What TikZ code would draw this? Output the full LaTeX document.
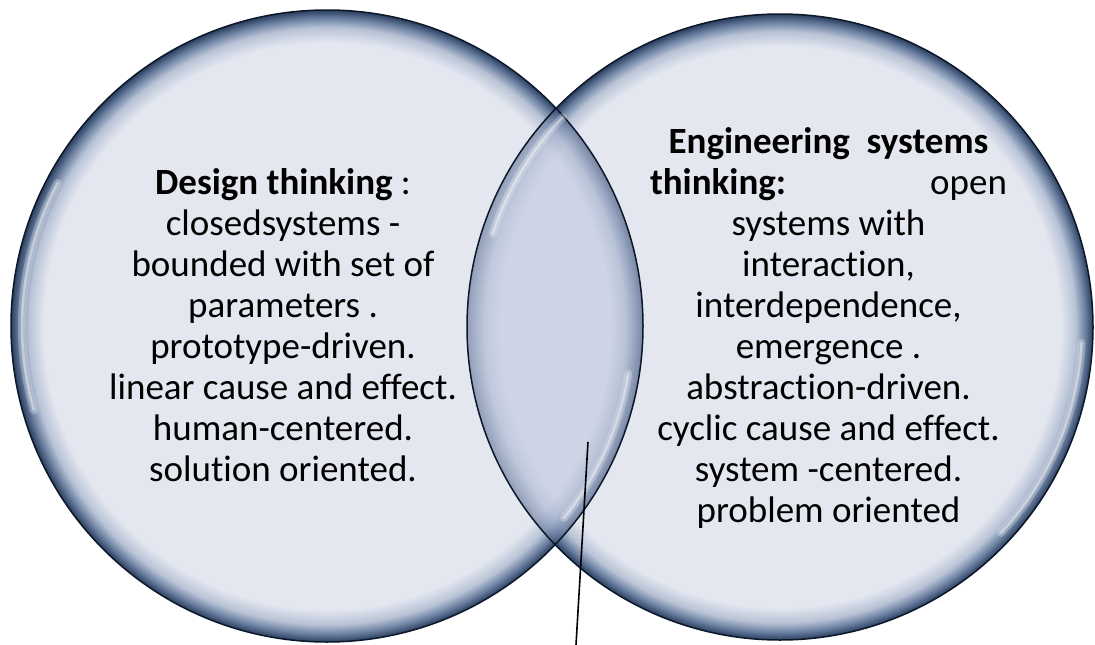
\documentclass[tikz,border=0pt]{standalone}
\usepackage{fontspec}
\setmainfont{Carlito}[Ligatures={NoCommon,NoContextual}]
\definecolor{cfill}{RGB}{228,231,240}
\definecolor{crimA}{RGB}{184,195,214}
\definecolor{crimB}{RGB}{104,125,158}
\definecolor{crimC}{RGB}{42,62,94}
\definecolor{cedge}{RGB}{12,24,42}
\definecolor{ctint}{RGB}{120,140,185}
\pgfdeclareradialshading{bubble}{\pgfpoint{0bp}{0bp}}{color(0bp)=(cfill); color(22.4bp)=(cfill); color(23.6bp)=(crimA); color(24.4bp)=(crimB); color(25bp)=(crimC); color(50bp)=(crimC)}
\tikzset{
  edge/.style={draw=cedge, line width=1.5pt},
  shine/.style={draw=white, line width=8pt, line cap=round, opacity=0.25},
  shinecore/.style={draw=white, line width=2.5pt, line cap=round, opacity=0.4},
  txt/.style={inner sep=0pt, font=\fontsize{37}{41}\selectfont, text=black}
}
\begin{document}
\begin{tikzpicture}[x=1pt,y=-1pt]
\useasboundingbox (0,0) rectangle (1095,645);
\coordinate (L) at (327,326);
\coordinate (R) at (780,327);
\shade[shading=bubble] (L) circle (316);
\shade[shading=bubble] (R) circle (313);
\begin{scope}
  \clip (R) circle (313);
  \shade[shading=bubble, fill opacity=0.6] (L) circle (316);
  \fill[ctint, fill opacity=0.2] (L) circle (316);
\end{scope}
\draw[edge] (L) circle (316);
\draw[edge] (R) circle (313);
% highlights (angles mirrored because y points down)
\foreach \st in {shine, shinecore} {
  \draw[\st] (L) ++(-152:305) arc[start angle=-152, end angle=-196, radius=305];
  \draw[\st] (L) ++(39:305) arc[start angle=39, end angle=9, radius=305];
  \draw[\st] (R) ++(-136:302) arc[start angle=-136, end angle=-162, radius=302];
  \draw[\st] (R) ++(43:302) arc[start angle=43, end angle=3, radius=302];
}
% texts
\node[txt, anchor=base] (dt) at (283,194) {\parbox[t]{380pt}{\centering
  \textbf{Design thinking} :\\
  closedsystems -\\
  bounded with set of\\
  parameters .\\
  prototype-driven.\\
  linear cause and effect.\\
  human-centered.\\
  solution oriented.}};
\node[txt, anchor=base] (est) at (828.5,153) {\parbox[t]{357pt}{\centering
  \textbf{Engineering\ \ systems}\\
  \makebox[\linewidth]{\textbf{thinking:}\hfill open}\\
  systems with\\
  interaction,\\
  interdependence,\\
  emergence .\\
  abstraction-driven.\\
  cyclic cause and effect.\\
  system -centered.\\
  problem oriented}};
% pointer line
\coordinate (p1) at (588,442);
\coordinate (p2) at (576,645);
\draw[line width=1.6pt, black] (p1) -- (p2);
\end{tikzpicture}
\end{document}
